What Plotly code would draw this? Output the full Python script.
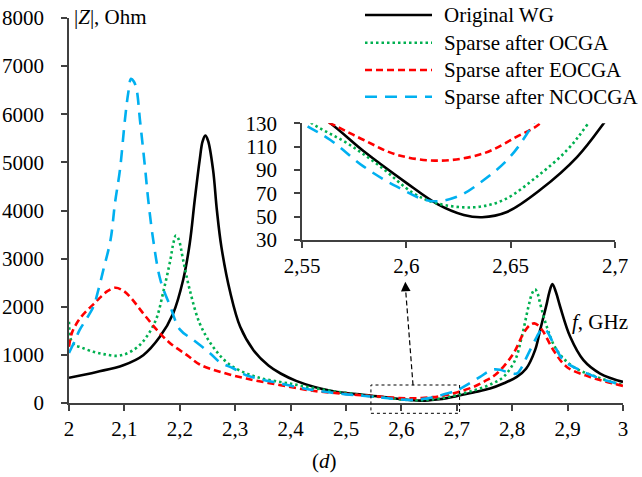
import plotly.graph_objects as go

# ---------------- data ----------------
f_orig = [2.0, 2.05, 2.098, 2.134, 2.164, 2.188, 2.206, 2.218, 2.227, 2.236, 2.241, 2.246,
          2.251, 2.26, 2.267, 2.275, 2.291, 2.309, 2.333, 2.36, 2.382, 2.41, 2.443, 2.47,
          2.5, 2.53, 2.5636, 2.5796, 2.6, 2.6147, 2.6275, 2.6363, 2.6482, 2.6642, 2.6818,
          2.6946, 2.706, 2.73, 2.76, 2.785, 2.8083, 2.825, 2.8413, 2.8504, 2.8625, 2.867,
          2.8726, 2.879, 2.8866, 2.9047, 2.9286, 2.9587, 3.0]
z_orig = [525, 646, 785, 994, 1375, 1862, 2556, 3320, 4223, 5056, 5430, 5556,
          5450, 4848, 4000, 3250, 2300, 1583, 1098, 780, 613, 460, 333, 260,
          205, 172, 130, 106, 79, 61, 51.5, 49.5, 54, 73, 101,
          130, 160, 220, 300, 410, 542, 710, 1098, 1515, 2070, 2300,
          2473, 2300, 2000, 1375, 890, 612, 437]

f_ocga = [2.0, 2.004, 2.012, 2.019, 2.044, 2.065, 2.086, 2.1, 2.116, 2.13, 2.14, 2.15,
          2.159, 2.171, 2.183, 2.188, 2.193, 2.198, 2.206, 2.218, 2.236, 2.26, 2.291, 2.338,
          2.398, 2.465, 2.5, 2.53, 2.5548, 2.5716, 2.5875, 2.6035, 2.6147, 2.6323, 2.6466,
          2.6626, 2.677, 2.6866, 2.7, 2.72, 2.742, 2.765, 2.7842, 2.8052, 2.8173, 2.8293,
          2.836, 2.8413, 2.846, 2.8504, 2.8625, 2.8805, 2.9105, 2.9527, 3.0]
z_ocga = [1690, 1300, 1190, 1167, 1063, 1010, 979, 1010, 1098, 1230, 1375, 1560,
          1792, 2348, 2973, 3300, 3480, 3400, 2973, 2348, 1654, 1167, 790, 542,
          404, 265, 210, 165, 130, 113, 93, 70, 61.4, 58, 64.3,
          84.3, 107, 128.6, 165, 225, 300, 410, 542, 890, 1375, 2000,
          2280, 2362, 2270, 2070, 1583, 1098, 750, 542, 369]

f_eocga = [2.0, 2.005, 2.012, 2.022, 2.033, 2.044, 2.056, 2.07, 2.084, 2.097, 2.11, 2.134,
           2.159, 2.183, 2.213, 2.236, 2.272, 2.32, 2.382, 2.443, 2.504, 2.53, 2.5636,
           2.5796, 2.5955, 2.6163, 2.6371, 2.653, 2.6642, 2.68, 2.7, 2.73, 2.75, 2.7722,
           2.8022, 2.8202, 2.832, 2.84, 2.848, 2.8563, 2.8744, 2.8985, 2.9406, 3.0]
z_eocga = [1170, 1450, 1620, 1790, 1930, 2050, 2190, 2330, 2396, 2340, 2208, 1862,
           1515, 1237, 994, 800, 650, 508, 369, 250, 185, 158, 130,
           115.7, 103, 98, 104.3, 118.6, 130, 165, 220, 333, 450, 612,
           1029, 1446, 1620, 1654, 1600, 1479, 1098, 750, 542, 354]

f_ncocga = [2.0, 2.01, 2.019, 2.03, 2.044, 2.053, 2.062, 2.075, 2.083, 2.092, 2.101, 2.107,
            2.112, 2.117, 2.122, 2.128, 2.137, 2.143, 2.152, 2.165, 2.183, 2.2, 2.225, 2.255,
            2.272, 2.297, 2.32, 2.382, 2.443, 2.5, 2.53, 2.55, 2.5636, 2.5796, 2.5955,
            2.6115, 2.6243, 2.6371, 2.6498, 2.661, 2.68, 2.7, 2.712, 2.742, 2.755, 2.766,
            2.778, 2.7903, 2.808, 2.818, 2.8263, 2.8444, 2.851, 2.8576, 2.864, 2.8744,
            2.8925, 2.9226, 2.9587, 3.0]
z_ncocga = [1040, 1280, 1515, 1720, 2000, 2350, 2765, 3390, 4154, 4848, 5890, 6450,
            6738, 6680, 6515, 5890, 4917, 4223, 3390, 2556, 2000, 1530, 1306, 1029,
            850, 717, 577, 404, 265, 180, 150, 130, 115.7, 92.9, 75.7,
            63.4, 67.1, 81.4, 101.4, 130, 190, 260, 333, 542, 640, 696,
            690, 646, 612, 760, 958, 1375, 1500, 1550, 1470, 1237,
            890, 681, 508, 369]

names = ["Original WG", "Sparse after OCGA", "Sparse after EOCGA", "Sparse after NCOCGA"]

main_xticks = [2.0, 2.1, 2.2, 2.3, 2.4, 2.5, 2.6, 2.7, 2.8, 2.9, 3.0]
main_xtext = ["2", "2,1", "2,2", "2,3", "2,4", "2,5", "2,6", "2,7", "2,8", "2,9", "3"]
main_yticks = [0, 1000, 2000, 3000, 4000, 5000, 6000, 7000, 8000]
main_ytext = ["0", "1000", "2000", "3000", "4000", "5000", "6000", "7000", "8000"]
inset_xticks = [2.55, 2.6, 2.65, 2.7]
inset_xtext = ["2,55", "2,6", "2,65", "2,7"]
inset_yticks = [30, 50, 70, 90, 110, 130]
inset_ytext = ["30", "50", "70", "90", "110", "130"]

# ---------------- styles ----------------
FONT = "Liberation Serif, Times New Roman, serif"
FS = 21
styles = [
    dict(color="#000000", width=2.6, dash="solid"),
    dict(color="#00B050", width=2.6, dash="2.5px,3px"),
    dict(color="#FF0000", width=2.6, dash="7px,4px"),
    dict(color="#00B0F0", width=2.6, dash="12px,8px"),
]
series = [(f_orig, z_orig), (f_ocga, z_ocga), (f_eocga, z_eocga), (f_ncocga, z_ncocga)]

fig = go.Figure()
for (fx, zy), nm, st in zip(series, names, styles):
    fig.add_trace(go.Scatter(x=fx, y=zy, mode="lines", name=nm, showlegend=False,
                             line=dict(shape="spline", smoothing=1.0, **st),
                             xaxis="x", yaxis="y"))
for (fx, zy), nm, st in zip(series, names, styles):
    fig.add_trace(go.Scatter(x=fx, y=zy, mode="lines", name=nm, showlegend=False,
                             line=dict(shape="spline", smoothing=1.0, **st),
                             xaxis="x2", yaxis="y2"))

W, H = 642, 477
ml, mr, mt, mb = 69, 19, 18, 74
pw, ph = W - ml - mr, H - mt - mb

def px(xp):
    return (xp - ml) / pw

def py(yp):
    return (H - mb - yp) / ph

axcol = "#404040"
tickfont = dict(family=FONT, size=FS, color="black")
axis_common = dict(showline=True, linecolor=axcol, linewidth=1.5, ticks="outside", ticklen=6,
                   tickcolor=axcol, tickwidth=1.5, showgrid=False, zeroline=False,
                   tickfont=tickfont)

fig.update_layout(
    width=W, height=H,
    margin=dict(l=ml, r=mr, t=mt, b=mb, pad=0, autoexpand=False),
    paper_bgcolor="white", plot_bgcolor="white",
    font=dict(family=FONT, size=FS, color="black"),
    showlegend=False,
    xaxis=dict(domain=[0, 1], range=[2, 3], tickvals=main_xticks, ticktext=main_xtext,
               anchor="y", **axis_common),
    yaxis=dict(domain=[0, 1], range=[0, 8000], tickvals=main_yticks, ticktext=main_ytext,
               anchor="x", ticklabelstandoff=13, **axis_common),
    xaxis2=dict(domain=[px(302), px(615)], range=[2.55, 2.7], tickvals=inset_xticks,
                ticktext=inset_xtext, anchor="y2", **axis_common),
    yaxis2=dict(domain=[py(240), py(123.3)], range=[30, 130], tickvals=inset_yticks,
                ticktext=inset_ytext, anchor="x2", ticklabelstandoff=13, **axis_common),
)

# manual legend (key lines + labels)
legend_rows = [15, 42.7, 70, 96.7]
for nm, st, ry in zip(names, styles, legend_rows):
    fig.add_shape(type="line", xref="paper", yref="paper", x0=px(365), x1=px(432),
                  y0=py(ry), y1=py(ry), line=dict(color=st["color"], width=st["width"],
                                                  dash=st["dash"]))
    fig.add_annotation(x=px(442), y=py(ry), xref="paper", yref="paper", xanchor="left",
                       yanchor="middle", text=nm, showarrow=False,
                       font=dict(family=FONT, size=FS, color="black"))

# axis titles as text
fig.add_annotation(x=px(72), y=py(16.7), xref="paper", yref="paper", xanchor="left",
                   yanchor="middle", text="|<i>Z</i>|, Ohm", showarrow=False,
                   font=dict(family=FONT, size=FS, color="black"))
fig.add_annotation(x=px(570), y=py(321.7), xref="paper", yref="paper", xanchor="left",
                   yanchor="middle", text="<i>f</i>, GHz", showarrow=False,
                   font=dict(family=FONT, size=FS, color="black"))
fig.add_annotation(x=px(324), y=py(461), xref="paper", yref="paper", xanchor="center",
                   yanchor="middle", text="(<i>d</i>)", showarrow=False,
                   font=dict(family=FONT, size=FS, color="black"))

# zoom box and arrow
fig.add_shape(type="rect", xref="x", yref="paper", x0=2.545, x1=2.705,
              y0=py(413.3), y1=py(385), line=dict(color="black", width=1, dash="dot"))
fig.add_shape(type="line", xref="x", yref="y", x0=2.621, y0=370, x1=2.608, y1=2300,
              line=dict(color="black", width=1.2, dash="5px,3px"))
fig.add_annotation(x=2.607, y=2520, ax=2.608, ay=2300, xref="x", yref="y",
                   axref="x", ayref="y", text="", showarrow=True, arrowhead=2,
                   arrowsize=1.6, arrowwidth=1.2, arrowcolor="black", standoff=0)

fig.write_html("out.html", config={"displayModeBar": False},
               post_script="document.body.style.margin='0px';document.body.style.overflow='hidden';")
